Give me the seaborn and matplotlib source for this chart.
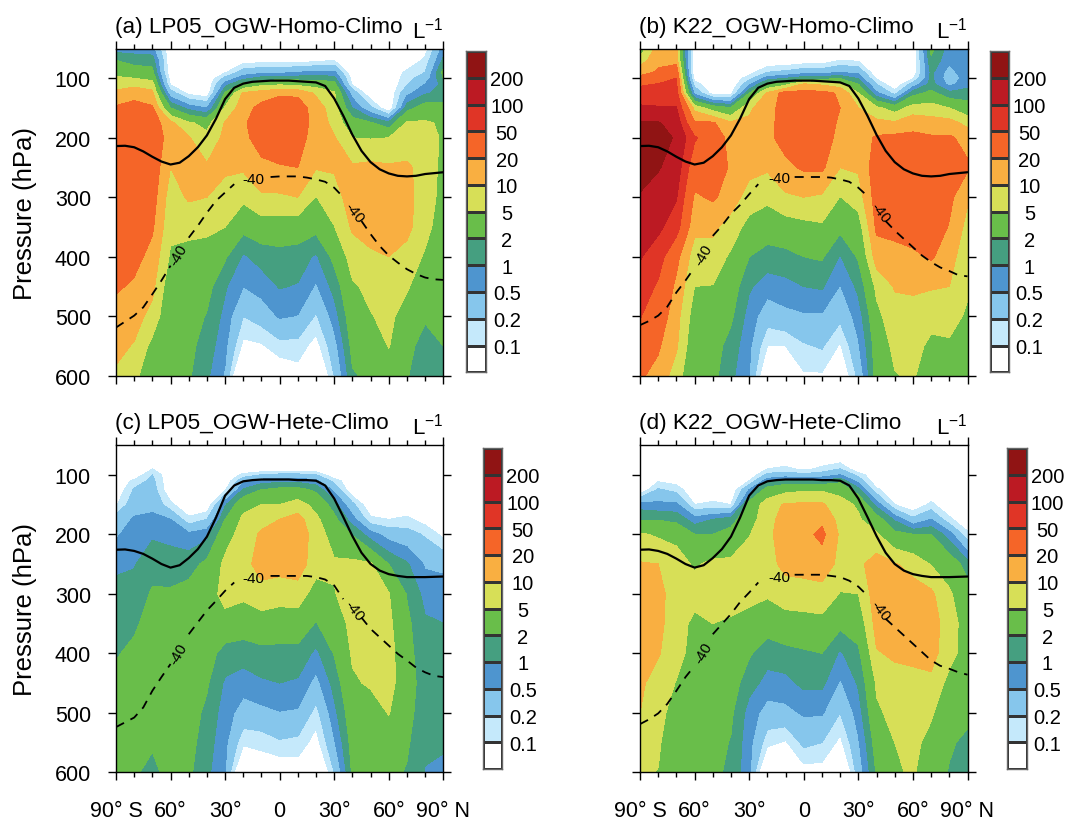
import numpy as np
import seaborn as sns
import matplotlib
matplotlib.use('Agg')
import matplotlib.pyplot as plt
from matplotlib.colors import ListedColormap

# latitude / pressure grid the fields are read on
lats = [-90, -80, -70, -60, -50, -40, -30, -20, -10, 0, 10, 20, 30, 40, 50, 60, 70, 80, 90]
pres = [50, 70, 90, 100, 110, 125, 150, 175, 200, 250, 300, 350, 400, 450, 500, 550, 600]
line_lats = list(range(-90, 95, 5))

levels = [0.1, 0.2, 0.5, 1, 2, 5, 10, 20, 50, 100, 200]
level_labels = ['200', '100', '50', '20', '10', '5', '2', '1', '0.5', '0.2', '0.1']
colors = ['#ffffff', '#c5e9fb', '#86c6ec', '#4e95cf', '#459f80', '#69be4a',
          '#d7df57', '#f9af41', '#f56528', '#e03526', '#bc1a23', '#901414']

# one row per latitude, one value per pressure level (L-1)
lp05_homo = [
    [.7, 2, 4, 5.5, 7, 12, 22, 30, 35, 35, 35, 30, 28, 22, 15, 12, 9],
    [.7, 1.5, 3, 5, 8, 16, 25, 35, 40, 35, 32, 30, 25, 18, 13, 9.5, 6],
    [.6, 1.5, 2.5, 4, 7, 12, 22, 30, 35, 32, 28, 22, 16, 12, 8, 4, 3],
    [.05, .05, .05, .07, .09, .3, 2, 12, 14, 10, 7, 6, 4.5, 3, 2.5, 2.5, 2.5],
    [.05, .05, .05, .05, .05, .08, .8, 5.5, 10.5, 14, 11, 6, 4, 3.2, 2.8, 2.4, 2.2],
    [.05, .05, .05, .05, .05, .06, .5, 4, 6, 11, 10, 6, 3.5, 2.6, 1.9, 1.5, 1.15],
    [.05, .05, .09, .25, .7, 2.2, 5.5, 10.5, 12, 11, 8, 5, 2.2, 1.1, .8, .6, .45],
    [.05, .07, .3, .8, 2.5, 11, 15, 18, 17, 11, 6, 2.6, .9, .5, .2, .08, .01],
    [.05, .07, .4, 1.3, 4, 14, 25, 30, 27, 17, 9, 3.5, 1.3, .7, .3, .09, .05],
    [.05, .07, .4, 1.5, 4.5, 18, 30, 32, 30, 19, 9, 3.5, 1.5, 1.05, .55, .15, .05],
    [.05, .07, .5, 1.5, 4, 17, 30, 28, 26, 20, 10, 3.2, 1.4, .95, .48, .15, .07],
    [.05, .08, .6, 1.5, 3.5, 9, 14, 16, 15, 10.5, 4.9, 2.6, .9, .45, .18, .07, .02],
    [.05, .1, .6, 1.3, 2.8, 5.5, 7, 8, 10.5, 11, 7, 4.9, 2.5, 1.3, .7, .35, .2],
    [.05, .05, .05, .07, .09, .35, 1, 3, 5, 11, 15, 11, 7, 4.5, 3.5, 2.6, 1.8],
    [.05, .05, .05, .05, .05, .05, .25, 2.2, 4.8, 12, 15, 13, 9, 6, 4.8, 3, 2.5],
    [.05, .05, .05, .05, .05, .05, .05, 1.2, 5, 11, 15, 13, 10, 7, 6, 5.2, 3],
    [.05, .05, .12, .15, .18, .4, 1.5, 5.5, 7, 11, 12, 12, 8, 5.5, 3.5, 2.5, 2.1],
    [.07, .12, .2, .3, .5, .9, 3, 5.5, 7, 8, 7.5, 6.5, 4.5, 3, 2.2, 1.5, 1.3],
    [.7, 1.2, 2.5, 2, 1.2, 1.3, 2.5, 4.5, 4.5, 4, 3.8, 3.2, 3, 2.6, 2.3, 2, 1.6],
]

k22_homo = [
    [3, 7, 15, 25, 45, 70, 110, 210, 250, 260, 190, 130, 105, 75, 52, 35, 22],
    [14, 17, 22, 30, 52, 70, 105, 210, 240, 210, 150, 115, 70, 45, 32, 22, 16],
    [14, 15, 35, 50, 58, 70, 105, 150, 190, 150, 105, 70, 25, 17, 13, 11, 7],
    [.05, .05, .05, .07, .15, .4, 8, 22, 55, 30, 18, 12, 7, 5, 3.5, 2.8, 2.5],
    [.05, .05, .05, .05, .05, .07, 3.5, 22, 30, 32, 22, 12, 7, 4.9, 3.5, 2.8, 2.5],
    [.05, .05, .05, .05, .05, .08, 2.2, 11, 16, 18, 15, 7, 4.5, 3.2, 2.3, 1.5, 1.2],
    [.05, .05, .07, .15, .4, 2, 9, 11, 13, 13, 7, 4, 2, 1.1, .75, .6, .5],
    [.05, .05, .2, .7, 2.5, 11, 14, 15, 17, 11, 6, 3, 1.5, .7, .3, .1, .03],
    [.05, .05, .25, 1, 4, 28, 30, 30, 26, 17, 9, 3.5, 1.6, .8, .4, .1, .05],
    [.05, .06, .35, 1.5, 11, 25, 32, 32, 30, 22, 10, 4, 2, 1, .45, .18, .09],
    [.05, .06, .35, 1.5, 9, 25, 35, 35, 32, 23, 9, 4.5, 2.2, 1.1, .45, .22, .09],
    [.05, .1, .5, 1.8, 7, 18, 20, 17, 15, 10, 4.9, 2.5, .95, .48, .25, .09, .04],
    [.05, .09, .4, .9, 2, 5, 10, 13, 14, 11, 7, 3.5, 2.2, 1.2, .7, .45, .25],
    [.05, .05, .05, .09, .2, .6, 6, 12, 22, 30, 28, 23, 14, 6, 4, 3, 3],
    [.05, .05, .05, .05, .05, .15, 3.5, 11, 24, 30, 30, 26, 15, 10.5, 8, 6, 4.8],
    [.05, .05, .05, .09, .3, 1.5, 7, 15, 24, 35, 35, 30, 17, 11, 8, 7, 5.5],
    [2.5, 1.7, 1.2, 1.2, 1.3, 2.5, 7, 13, 22, 35, 35, 32, 22, 10.5, 7, 4, 3],
    [.7, .6, .35, .3, .4, 1.2, 5, 13, 22, 30, 24, 19, 13, 10, 6.5, 4.5, 3],
    [.7, .7, .9, .7, .8, 1.3, 3, 8, 16, 22, 11, 8, 6.5, 5.5, 4.5, 3.5, 2.8],
]

lp05_hete = [
    [.05, .05, .05, .05, .05, .05, .09, .3, .45, .8, 1.4, 1.6, 1.9, 2.3, 2.4, 2.5, 2.3],
    [.05, .05, .05, .05, .12, .22, .35, .55, .7, .95, 1.3, 1.8, 2.3, 2.5, 2.6, 2.5, 2.1],
    [.05, .05, .1, .2, .25, .3, .4, .6, .9, 1.5, 2.2, 2.6, 2.8, 2.7, 2.5, 2.1, 1.8],
    [.05, .05, .05, .05, .05, .05, .12, .5, .8, 1.4, 2.2, 3, 3.2, 3, 2.8, 2.5, 2.3],
    [.05, .05, .05, .05, .05, .05, .05, .12, .6, 1.5, 2.6, 3, 3.2, 3, 2.8, 2.6, 2.3],
    [.05, .05, .05, .05, .05, .05, .05, .2, .8, 2.4, 3, 3, 2.8, 2.2, 1.7, 1.4, 1.2],
    [.05, .05, .05, .05, .05, .09, .9, 2, 3.5, 6, 7, 3.5, 1.5, .9, .7, .6, .5],
    [.05, .05, .05, .12, .4, 1.1, 3.8, 6, 7, 8, 6, 3, 1.4, .7, .35, .12, .02],
    [.05, .05, .05, .2, .7, 2, 5, 8, 11, 13, 8, 3.5, 1.6, .9, .4, .13, .05],
    [.05, .05, .05, .25, .8, 2.5, 5, 10, 14, 13, 7, 3.2, 1.6, 1, .48, .18, .05],
    [.05, .05, .05, .25, .8, 2.6, 7, 13, 15, 14, 7.5, 3.2, 1.6, .9, .45, .16, .06],
    [.05, .05, .05, .2, .6, 1.7, 3.8, 6, 7.5, 7, 3.5, 1.9, .85, .38, .15, .07, .02],
    [.05, .05, .05, .05, .15, .4, 1.4, 2.5, 3.5, 5.5, 4.8, 3.5, 2.1, 1.3, .8, .45, .2],
    [.05, .05, .05, .05, .05, .05, .25, .7, 1.9, 6, 7, 6, 5.5, 4.5, 3.5, 2.8, 2.3],
    [.05, .05, .05, .05, .05, .05, .05, .12, .7, 5.5, 7, 7, 6.5, 5.5, 3.5, 2.8, 2.3],
    [.05, .05, .05, .05, .05, .05, .05, .1, .35, 2, 5.2, 6, 7, 7, 5.2, 3.5, 2.4],
    [.05, .05, .05, .05, .05, .05, .05, .12, .28, 1.1, 1.9, 2.4, 2.6, 2.7, 2.5, 2.2, 1.9],
    [.05, .05, .05, .05, .05, .05, .05, .07, .18, .45, .8, 1.1, 1.3, 1.5, 1.4, 1.2, .95],
    [.05, .05, .05, .05, .05, .05, .05, .05, .08, .42, .7, 1, 1.3, 1.4, 1.4, 1.1, .85],
]

k22_hete = [
    [.05, .05, .05, .05, .05, .05, .7, 1.9, 5.5, 10.5, 13, 13, 12, 11, 10, 7, 5.5],
    [.05, .05, .05, .05, .09, .22, .6, 1.9, 4.5, 10, 11.5, 11.5, 10.5, 8, 6.5, 5.5, 4.9],
    [.05, .05, .05, .05, .07, .15, .6, 1.6, 4, 7, 8, 7.5, 7, 4.8, 3.5, 3, 2.8],
    [.05, .05, .05, .05, .05, .05, .1, .7, 2, 4.5, 7, 4, 3.5, 3.2, 3, 2.8, 2.6],
    [.05, .05, .05, .05, .05, .05, .12, 1, 2, 6, 7, 5, 3.7, 3.2, 3, 2.7, 2.4],
    [.05, .05, .05, .05, .05, .05, .1, 1.5, 2.6, 6, 7, 4.5, 3.2, 3, 2.3, 1.9, 1.7],
    [.05, .05, .05, .05, .1, .5, 3, 3.5, 4.8, 7, 6, 4, 2.2, 1.3, .75, .65, .6],
    [.05, .05, .1, .25, .8, 3, 7, 8, 8.5, 8, 5.5, 3, 1.3, .8, .35, .13, .02],
    [.05, .05, .12, .3, 1.2, 4, 11, 13, 14, 12, 7.5, 3.5, 1.6, .8, .4, .09, .05],
    [.05, .05, .08, .25, 1, 4.5, 11, 14, 16, 13, 7.5, 3.8, 1.8, 1.2, .55, .25, .07],
    [.05, .05, .12, .3, 1.1, 4.5, 11, 17, 24, 14, 8, 4, 2, 1.2, .55, .2, .07],
    [.05, .05, .2, .5, 1.6, 4, 6.5, 8, 9, 8.5, 4.8, 2.5, .9, .45, .2, .08, .02],
    [.05, .05, .05, .15, .35, 1.3, 4.5, 5.5, 7, 8.5, 5, 3, 1.7, 1.1, .7, .45, .3],
    [.05, .05, .05, .05, .05, .12, .8, 3, 5.5, 14, 15, 13, 9.5, 5.5, 4.5, 3, 2.2],
    [.05, .05, .05, .05, .05, .05, .1, .9, 2.5, 10.5, 14, 15, 11, 8, 6, 5, 4.5],
    [.05, .05, .05, .05, .05, .05, .05, .25, 2, 8, 13, 15, 12, 8, 7, 6, 5.5],
    [.05, .05, .05, .05, .05, .05, .12, .5, 2, 4.8, 11.5, 14, 13, 8.5, 5.5, 4, 3],
    [.05, .05, .05, .05, .05, .05, .05, .12, .7, 3.5, 5.5, 7, 6.5, 4, 3, 2.2, 1.9],
    [.05, .05, .05, .05, .05, .05, .05, .05, .12, 1.4, 3, 3.5, 3.5, 3, 2.4, 1.7, 1.4],
]

# tropopause, every 5 degrees
trop_homo = [214, 213.5, 216, 223, 232, 240, 245, 242, 231, 216, 196, 168, 135, 116, 109, 106, 105, 104, 104,
             104, 105, 106, 107, 113, 134, 163, 195, 222, 241, 253, 260, 264, 265, 264, 261, 259.5, 258]
trop_hete = [226, 225.5, 228, 233, 241, 250, 256, 252, 240, 225, 204, 172, 135, 118, 111, 109, 108, 108, 108,
             108, 109, 109, 110, 118, 140, 171, 203, 231, 250, 261, 267, 270, 272, 272, 272, 271.5, 271]

# -40 isotherm, every 5 degrees, nan where the contour label sits
nan = np.nan
iso_a = [519, 509, 499, 485, 463, 440, 415, nan, 368, 348, 326, 306, 292, 278, nan, nan, nan, 266, 265,
         265, 265, 267, 270, 274, 284, 300, nan, 340, 362, 382, 398, 410, 421, 429, 435, 438, 439]
iso_b = [515, 508, 499, 484, 460, 440, 418, nan, 365, 348, 328, 313, 295, 278, nan, nan, nan, 266, 266,
         266, 266, 267, 270, 274, 284, 298, nan, 340, 356, 370, 384, 398, 409, 418, 424, 431, 433]
iso_c = [524, 516, 508, 491, 463, 440, 418, nan, 368, 348, 328, 312, 295, 281, nan, nan, nan, 270, 270,
         270, 270, 270, 272, 276, 286, 309, nan, 340, 359, 373, 387, 401, 412, 424, 432, 438, 440]
iso_d = [519, 511, 501, 485, 463, 440, 421, nan, 368, 351, 334, 314, 298, 281, nan, nan, nan, 268, 268,
         268, 268, 270, 272, 278, 288, 303, nan, 342, 356, 370, 384, 398, 412, 421, 426, 432, 436]

titles = ['(a) LP05_OGW-Homo-Climo', '(b) K22_OGW-Homo-Climo', '(c) LP05_OGW-Hete-Climo', '(d) K22_OGW-Hete-Climo']
fields = [lp05_homo, k22_homo, lp05_hete, k22_hete]
troplines = [trop_homo, trop_homo, trop_hete, trop_hete]
isolines = [iso_a, iso_b, iso_c, iso_d]
iso_labels = [[(-55.5, 397, 60), (-14.5, 270, 0), (41, 325, -52)],
              [(-55, 396, 60), (-13.5, 268, 0), (42, 325, -52)],
              [(-55.5, 401, 60), (-14.5, 273, 0), (41, 328, -52)],
              [(-55, 398, 60), (-13.5, 271, 0), (42, 327, -52)]]

x_ticks = [-90, -60, -30, 0, 30, 60, 90]
x_labels = ['90\u00b0 S', '60\u00b0', '30\u00b0', '0', '30\u00b0', '60\u00b0', '90\u00b0 N']
y_ticks = [100, 200, 300, 400, 500, 600]

sns.set_style('ticks')
plt.rcParams['font.family'] = ['Liberation Sans', 'DejaVu Sans']
plt.rcParams['mathtext.default'] = 'regular'
plt.rcParams['text.color'] = 'black'
plt.rcParams['axes.labelcolor'] = 'black'
plt.rcParams['xtick.color'] = 'black'
plt.rcParams['ytick.color'] = 'black'
plt.rcParams['axes.edgecolor'] = 'black'

W, H = 1069, 820
fig = plt.figure(figsize=(W / 100, H / 100), dpi=100)

# pixel boxes: axes (left, top, right, bottom), colour bar (left, right, top, bottom)
ax_boxes = [(116, 49.5, 443.3, 376.7), (640, 49.5, 967.5, 376.7), (116, 446, 443.3, 773.3), (640, 446, 967.5, 773.3)]
cb_boxes = [(466, 486, 52, 373.3), (989.5, 1008.7, 52, 373.3), (483, 502, 449, 770), (1006.7, 1026.7, 449, 770)]


def add_axes(left, top, right, bottom):
    return fig.add_axes([left / W, 1 - bottom / H, (right - left) / W, (bottom - top) / H])


for i in range(4):
    ax = add_axes(*ax_boxes[i])
    z = np.log10(np.array(fields[i]).T)
    ax.contourf(lats, pres, z, levels=np.log10(levels), colors=colors, extend='both')

    sns.lineplot(x=line_lats, y=troplines[i], color='black', lw=1.6, ax=ax, legend=False)

    # dashed isotherm is drawn piece by piece so the label gaps stay open
    iso = np.array(isolines[i])
    xs = np.array(line_lats)
    start = 0
    for j in range(len(iso) + 1):
        if j == len(iso) or np.isnan(iso[j]):
            if j - start > 1:
                sns.lineplot(x=xs[start:j], y=iso[start:j], color='black', lw=1.3,
                             linestyle=(0, (5, 4)), ax=ax, legend=False)
            start = j + 1
    for lat, p, rot in iso_labels[i]:
        ax.text(lat, p, '-40', fontsize=11, rotation=rot, ha='center', va='center')

    ax.set_xlim(-90, 90)
    ax.set_ylim(600, 50)
    ax.set_xticks(x_ticks)
    ax.set_xticks(range(-80, 90, 10), minor=True)
    ax.set_yticks(y_ticks)
    ax.tick_params(which='major', direction='out', length=6, width=1, top=True, right=True, labelsize=15.5)
    ax.tick_params(which='minor', direction='out', length=3.5, width=1, top=True, bottom=True)
    ax.tick_params(axis='x', pad=14)
    ax.tick_params(axis='y', pad=12)
    ax.set_xticklabels(x_labels if i >= 2 else [])
    ax.set_xlabel('')
    ax.set_ylabel('')
    if i % 2 == 0:
        ax.set_yticklabels([str(t) for t in y_ticks])
        ax.set_ylabel('Pressure (hPa)', fontsize=18.5)
        ax.yaxis.set_label_coords((37 - ax_boxes[i][0]) / (ax_boxes[i][2] - ax_boxes[i][0]), 0.5)
    else:
        ax.set_yticklabels([])
    for s in ax.spines.values():
        s.set_visible(True)
        s.set_linewidth(1)

    ax_h = ax_boxes[i][3] - ax_boxes[i][1]
    ax.text(-1 / (ax_boxes[i][2] - ax_boxes[i][0]), 1 + 16.5 / ax_h, titles[i], transform=ax.transAxes,
            fontsize=16.2, ha='left', va='baseline')
    ax.text(1, 1 + 11 / ax_h, 'L$^{-1}$', transform=ax.transAxes, fontsize=16, ha='right', va='baseline')

    # colour bar boxes come from a one column heatmap
    l, r, t, b = cb_boxes[i]
    cax = add_axes(l, t, r, b)
    bands = np.arange(12)[::-1].reshape(-1, 1)
    sns.heatmap(bands, cmap=ListedColormap(colors), cbar=False, ax=cax, linewidths=1, linecolor='#333333',
                xticklabels=False, yticklabels=False)
    cax.yaxis.tick_right()
    cax.set_yticks(range(1, 12))
    cax.set_yticklabels(level_labels, rotation=0, ha='center', fontsize=14.5)
    cax.tick_params(axis='y', length=0, pad=15, right=False)
    for s in cax.spines.values():
        s.set_visible(True)
        s.set_linewidth(1)
        s.set_color('#666666')

fig.savefig('out.png', dpi=100)
